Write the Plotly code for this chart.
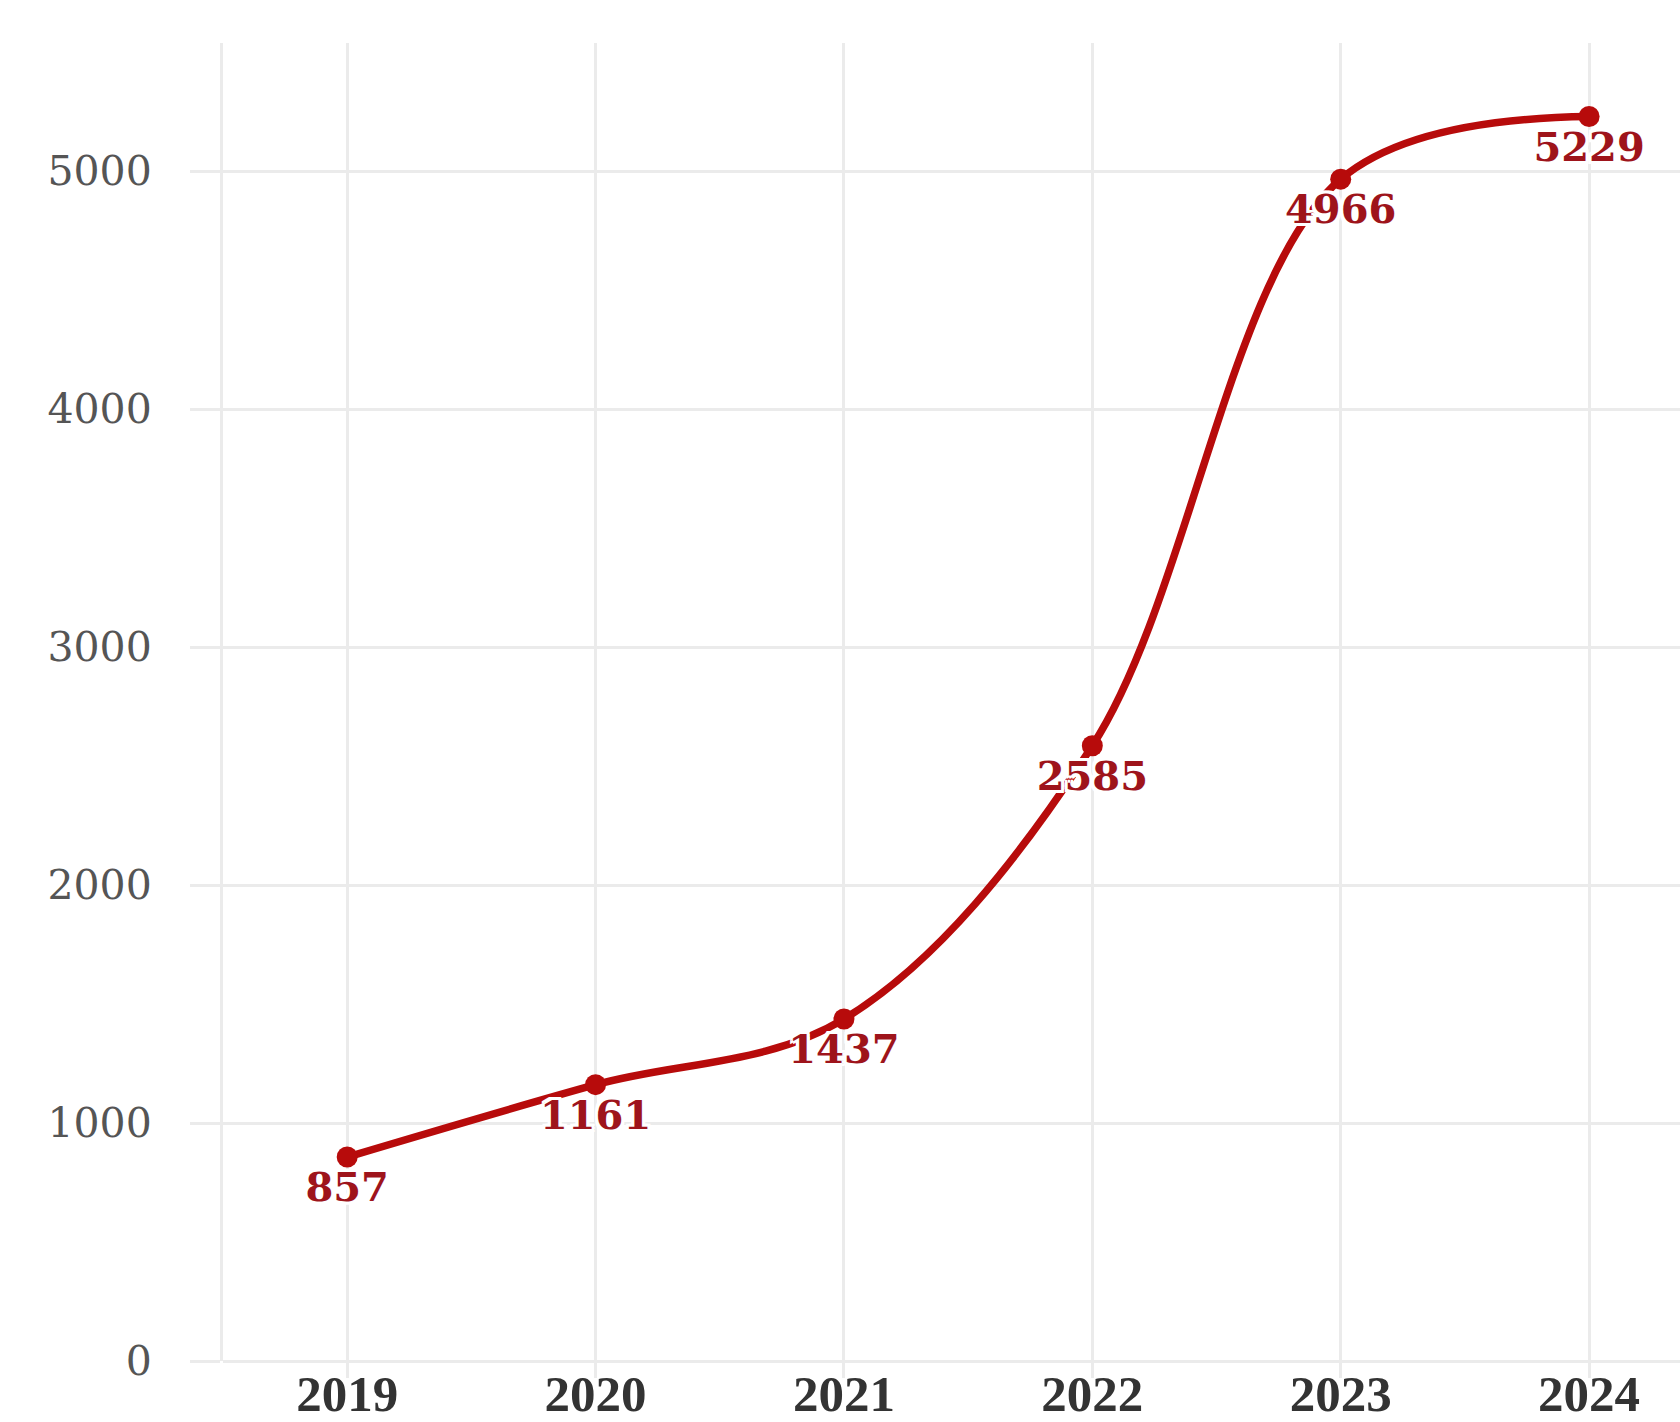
import plotly.graph_objects as go

years = [2019, 2020, 2021, 2022, 2023, 2024]
values = [857, 1161, 1437, 2585, 4966, 5229]
y_ticks = [0, 1000, 2000, 3000, 4000, 5000]
x_tick_labels = ["2019", "2020", "2021", "2022", "2023", "2024"]

GRID = "#ebebeb"
LINE_RED = "#b70b0b"
LABEL_RED = "#9e141b"

halo = ", ".join(f"{dx}px {dy}px 0 white" for dx in (-3, 0, 3) for dy in (-3, 0, 3) if (dx, dy) != (0, 0))

fig = go.Figure()
fig.add_trace(go.Scatter(
    x=years, y=values,
    mode="lines+markers+text",
    line=dict(color=LINE_RED, width=7.5, shape="spline", smoothing=1.0),
    marker=dict(color=LINE_RED, size=21),
    text=[str(v) for v in values],
    textposition="bottom center",
    textfont=dict(family="DejaVu Serif", size=40, color=LABEL_RED, weight="bold", shadow=halo),
    cliponaxis=False,
    hoverinfo="skip",
))

fig.update_layout(
    width=1680, height=1422, autosize=False,
    margin=dict(l=223, r=0, t=43, b=61),
    paper_bgcolor="white", plot_bgcolor="white",
    showlegend=False,
)
fig.update_xaxes(
    range=[2018.5, 2024.366],
    tickmode="array", tickvals=years, ticktext=x_tick_labels,
    showgrid=True, gridcolor=GRID, gridwidth=3,
    ticks="outside", ticklen=16, tickcolor=GRID, tickwidth=3,
    ticklabelstandoff=-28,
    tickfont=dict(family="Liberation Serif", size=51, color="#333333", weight="bold"),
    showline=False, zeroline=False, automargin=False,
)
fig.update_yaxes(
    range=[0, 5538],
    tickmode="array", tickvals=y_ticks,
    showgrid=True, gridcolor=GRID, gridwidth=3,
    ticks="outside", ticklen=30, tickcolor=GRID, tickwidth=3,
    ticklabelstandoff=30,
    tickfont=dict(family="DejaVu Serif", size=41, color="#555555"),
    showline=True, linecolor=GRID, linewidth=3,
    zeroline=True, zerolinecolor=GRID, zerolinewidth=3, automargin=False,
)

fig.write_html("out.html")
